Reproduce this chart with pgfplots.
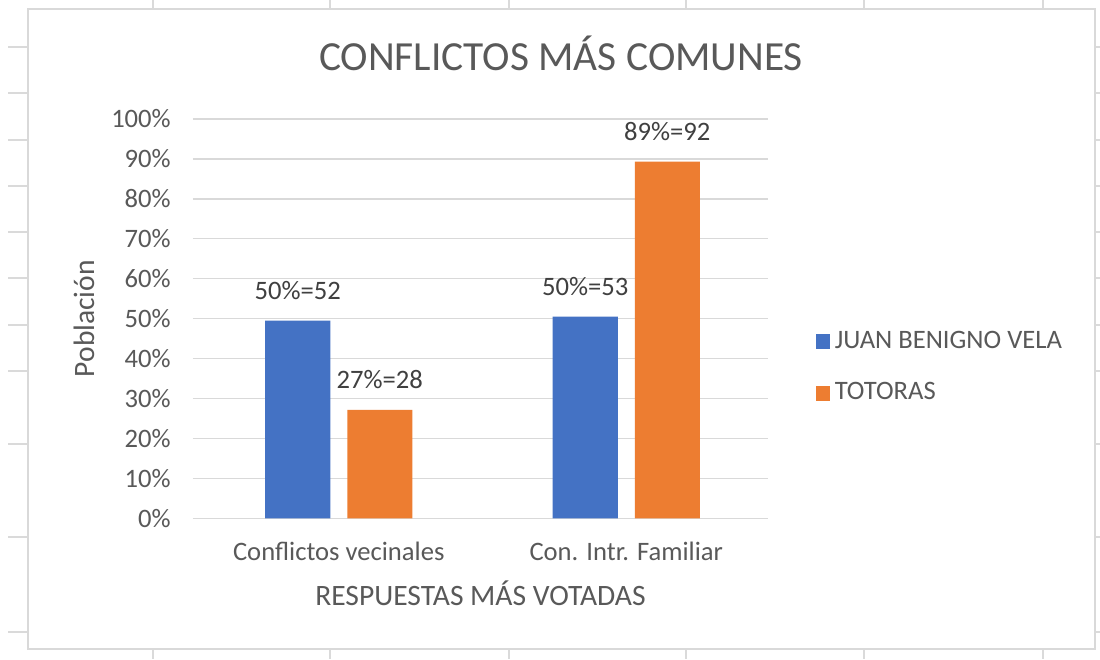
\documentclass[border=0pt]{standalone}
\usepackage{pgfplots}
\pgfplotsset{compat=1.18}
\usepackage{fontspec}
\setmainfont{Carlito}
\definecolor{cblue}{HTML}{4472C4}
\definecolor{corange}{HTML}{ED7D31}
\definecolor{ctext}{HTML}{595959}
\definecolor{clabel}{HTML}{404040}
\definecolor{cgrid}{HTML}{D9D9D9}
\definecolor{csheet}{HTML}{DADADA}
\begin{document}
\begin{tikzpicture}
\begin{scope}[x=0.3383pt,y=-0.3383pt]
\useasboundingbox (0,0) rectangle (1100,659);
\fill[white] (0,0) rectangle (1100,659);
\foreach \x in {153,330,509,686,864,1043} {
  \draw[csheet, line width=0.4pt] (\x,0) -- (\x,9);
  \draw[csheet, line width=0.4pt] (\x,649) -- (\x,659);
}
\foreach \y in {47,93,140,186,232,278,325,371,444,537,632} {
  \draw[csheet, line width=0.4pt] (8,\y) -- (28,\y);
  \draw[csheet, line width=0.4pt] (1095,\y) -- (1100,\y);
}
\draw[cgrid, line width=0.5pt] (28,9) rectangle (1095,649);
\node[anchor=base, font=\fontsize{14}{17}\selectfont, text=ctext, inner sep=0pt] at (561,70) {CONFLICTOS MÁS COMUNES};
\end{scope}
\begin{axis}[
  at={(65.29pt,-175.34pt)}, anchor=south west,
  scale only axis, width=194.52pt, height=135.08pt,
  xmin=-0.507, xmax=1.493, ymin=0, ymax=100,
  enlargelimits=false,
  axis line style={draw=none},
  tick style={draw=none}, major tick length=0pt,
  ymajorgrids, grid style={cgrid, line width=0.45pt},
  ytick={0,10,...,100},
  yticklabel={\pgfmathprintnumber{\tick}\%},
  /pgf/number format/assume math mode=true,
  yticklabel style={font=\fontsize{9}{11}\selectfont, text=ctext, anchor=east, xshift=-4pt},
  xtick={0,1},
  xticklabels={Conflictos vecinales, Con. Intr. Familiar},
  xticklabel style={font=\fontsize{9}{11}\selectfont, text=ctext, anchor=base, yshift=-14.2pt},
  xlabel={RESPUESTAS MÁS VOTADAS},
  xlabel style={at={(axis description cs:0.5,0)}, anchor=base, yshift=-29.4pt, font=\fontsize{10}{12}\selectfont, text=ctext},
  ylabel={Población},
  ylabel style={at={(axis description cs:-0.1896,0.5)}, anchor=center, font=\fontsize{10}{12}\selectfont, text=ctext},
  ybar=5.75pt, bar width=22pt,
  nodes near coords, point meta=explicit symbolic,
  every node near coord/.append style={font=\fontsize{9}{11}\selectfont, text=clabel, anchor=south, yshift=3.6pt},
  legend style={at={(1.0817,0.3777)}, anchor=west, draw=none, fill=none,
    font=\fontsize{9}{11}\selectfont, text=ctext, row sep=7pt, inner sep=0pt,
    nodes={inner sep=1.5pt}},
  legend cell align=left,
]
\addplot[fill=cblue, draw=none, legend image code/.code={\fill[cblue] (0pt,-2.5pt) rectangle (5pt,2.5pt);}]
  coordinates {(0,49.52) [50\%=52] (1,50.48) [50\%=53]};
\addplot[fill=corange, draw=none, legend image code/.code={\fill[corange] (0pt,-2.5pt) rectangle (5pt,2.5pt);}]
  coordinates {(0,27.18) [27\%=28] (1,89.32) [89\%=92]};
\legend{JUAN BENIGNO VELA, TOTORAS}
\end{axis}
\end{tikzpicture}
\end{document}
